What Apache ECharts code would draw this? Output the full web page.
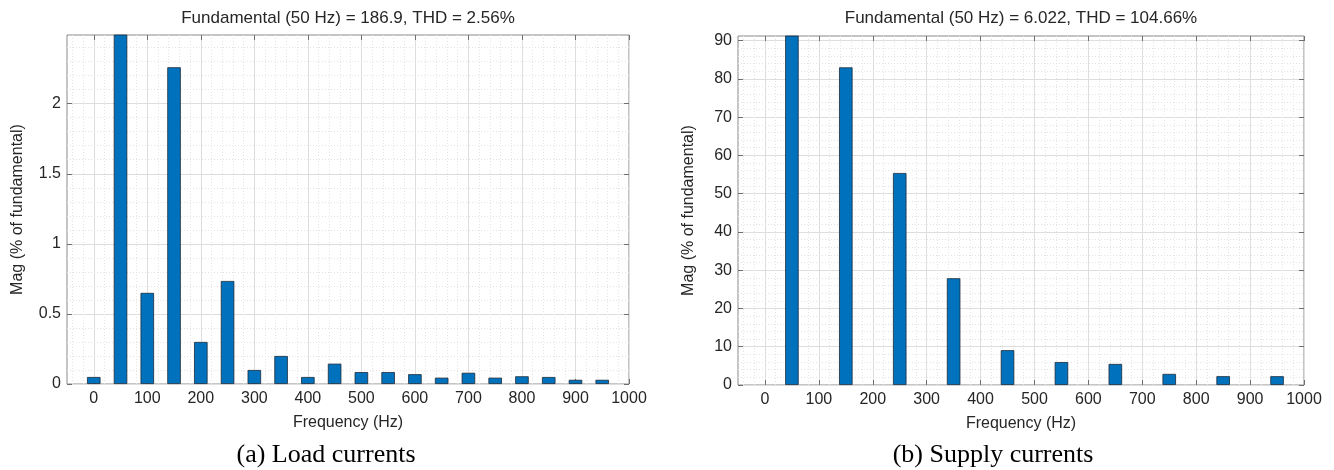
<!DOCTYPE html>
<html>
<head>
<meta charset="utf-8">
<script src="https://cdn.jsdelivr.net/npm/echarts@6/dist/echarts.min.js"></script>
<style>
  html, body { margin: 0; padding: 0; background: #ffffff; }
  #chart { width: 1334px; height: 470px; }
</style>
</head>
<body>
<div id="chart"></div>
<script>
// Harmonic spectra, magnitudes in percent of the 50 Hz fundamental
const loadFreq = [0, 50, 100, 150, 200, 250, 300, 350, 400, 450, 500, 550, 600, 650, 700, 750, 800, 850, 900, 950];
const loadMag = [0.05, 100, 0.65, 2.26, 0.30, 0.735, 0.10, 0.20, 0.05, 0.145, 0.085, 0.085, 0.07, 0.045, 0.08, 0.045, 0.055, 0.05, 0.03, 0.03];

const supplyFreq = [50, 150, 250, 350, 450, 550, 650, 750, 850, 950];
const supplyMag = [100, 83, 55.4, 27.9, 9.1, 6.0, 5.5, 2.9, 2.3, 2.3];

// Axis ticks
const freqTicks = [0, 100, 200, 300, 400, 500, 600, 700, 800, 900, 1000];
const loadTicks = [0, 0.5, 1, 1.5, 2];
const supplyTicks = [0, 10, 20, 30, 40, 50, 60, 70, 80, 90];

// Texts
const loadTitle = 'Fundamental (50 Hz) = 186.9, THD = 2.56%';
const supplyTitle = 'Fundamental (50 Hz) = 6.022, THD = 104.66%';
const xName = 'Frequency (Hz)';
const yName = 'Mag (% of fundamental)';
const captions = ['(a) Load currents', '(b) Supply currents'];

// Minor grid positions between major ticks
function steps(start, stop, step) {
  const out = [];
  const n = Math.round((stop - start) / step);
  for (let i = 0; i <= n; i++) out.push(+(start + i * step).toFixed(6));
  return out;
}
const freqMinor = steps(-40, 1000, 20);
const loadMinor = steps(0, 2.4, 0.1);
const supplyMinor = steps(0, 90, 2);

const FONT = 'Liberation Sans';
const TEXT = '#262626';
const BOX = '#8a8a8a';
const TICK = '#6e6e6e';
const plain = v => String(v);

const panels = [
  { left: 67, top: 35, width: 562, height: 349, ymax: 2.49, yTicks: loadTicks, yMinor: loadMinor,
    freq: loadFreq, mag: loadMag, title: loadTitle, caption: captions[0], captionX: 326 },
  { left: 738, top: 36, width: 566, height: 349, ymax: 91.2, yTicks: supplyTicks, yMinor: supplyMinor,
    freq: supplyFreq, mag: supplyMag, title: supplyTitle, caption: captions[1], captionX: 993 }
];

const grid = [], xAxis = [], yAxis = [], series = [], graphic = [];

panels.forEach((p, gi) => {
  grid.push({ left: p.left, top: p.top, width: p.width, height: p.height, show: true,
    borderColor: BOX, borderWidth: 1, backgroundColor: '#ffffff' });

  const xBase = { gridIndex: gi, type: 'value', min: -50, max: 1000 };
  const yBase = { gridIndex: gi, type: 'value', min: 0, max: p.ymax };
  const noLine = { show: false, onZero: false };

  // minor dotted grid
  xAxis.push(Object.assign({}, xBase, {
    position: 'bottom', axisLine: noLine, axisLabel: { show: false },
    axisTick: { show: false, customValues: freqMinor },
    splitLine: { show: true, lineStyle: { color: '#e3e3e3', type: [1, 2], width: 1 } }
  }));
  yAxis.push(Object.assign({}, yBase, {
    position: 'left', axisLine: noLine, axisLabel: { show: false },
    axisTick: { show: false, customValues: p.yMinor },
    splitLine: { show: true, lineStyle: { color: '#e3e3e3', type: [1, 2], width: 1 } }
  }));

  // major axes with labels
  xAxis.push(Object.assign({}, xBase, {
    position: 'bottom', axisLine: noLine,
    axisTick: { show: true, inside: true, length: 5, customValues: freqTicks, lineStyle: { color: TICK } },
    axisLabel: { show: true, customValues: freqTicks, formatter: plain, margin: 7, color: TEXT, fontFamily: FONT, fontSize: 16 },
    splitLine: { show: true, lineStyle: { color: '#dedede', width: 1 } },
    name: xName, nameLocation: 'middle', nameGap: 31,
    nameTextStyle: { color: TEXT, fontFamily: FONT, fontSize: 16 }
  }));
  yAxis.push(Object.assign({}, yBase, {
    position: 'left', axisLine: noLine,
    axisTick: { show: true, inside: true, length: 5, customValues: p.yTicks, lineStyle: { color: TICK } },
    axisLabel: { show: true, customValues: p.yTicks, formatter: plain, margin: 6, color: TEXT, fontFamily: FONT, fontSize: 16 },
    splitLine: { show: true, lineStyle: { color: '#dedede', width: 1 } },
    name: yName, nameLocation: 'middle', nameGap: 41, nameRotate: 90,
    nameTextStyle: { color: TEXT, fontFamily: FONT, fontSize: 16 }
  }));

  // box ticks on top and right
  xAxis.push(Object.assign({}, xBase, {
    position: 'top', axisLine: noLine, axisLabel: { show: false }, splitLine: { show: false },
    axisTick: { show: true, inside: true, length: 5, customValues: freqTicks, lineStyle: { color: TICK } }
  }));
  yAxis.push(Object.assign({}, yBase, {
    position: 'right', axisLine: noLine, axisLabel: { show: false }, splitLine: { show: false },
    axisTick: { show: true, inside: true, length: 5, customValues: p.yTicks, lineStyle: { color: TICK } }
  }));

  series.push({
    type: 'bar', xAxisIndex: gi * 3 + 1, yAxisIndex: gi * 3 + 1,
    data: p.freq.map((f, i) => [f, p.mag[i]]),
    barWidth: 13.5, clip: true, silent: true, animation: false,
    itemStyle: { color: '#0072bd', borderColor: '#1b2a3a', borderWidth: 0.8 }
  });

  graphic.push({
    type: 'text', x: p.left + p.width / 2, y: 10,
    style: { text: p.title, fill: TEXT, font: '17px "' + FONT + '"', textAlign: 'center', textVerticalAlign: 'top' }
  });
  graphic.push({
    type: 'text', x: p.captionX, y: 455,
    style: { text: p.caption, fill: '#000000', font: '26px "Liberation Serif"', textAlign: 'center', textVerticalAlign: 'middle' }
  });
});

const chart = echarts.init(document.getElementById('chart'), null, { renderer: 'canvas' });
chart.setOption({
  animation: false,
  backgroundColor: '#ffffff',
  grid: grid,
  xAxis: xAxis,
  yAxis: yAxis,
  series: series,
  graphic: graphic
});
</script>
</body>
</html>
